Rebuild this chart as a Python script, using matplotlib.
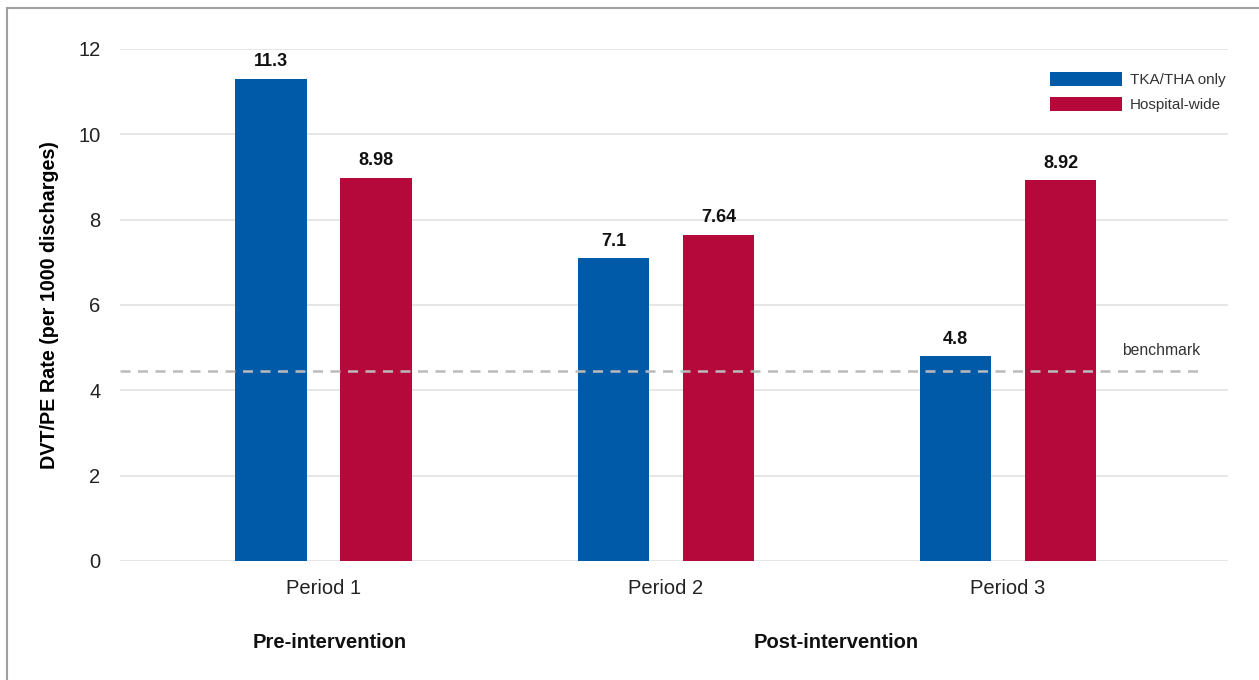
import matplotlib.pyplot as plt
from matplotlib.patches import Rectangle
import numpy as np

plt.rcParams['font.family'] = ['Liberation Sans', 'DejaVu Sans']

periods = ['Period 1', 'Period 2', 'Period 3']
tka_tha = [11.3, 7.1, 4.8]
hospital = [8.98, 7.64, 8.92]
benchmark = 4.45
phases = ['Pre-intervention', 'Post-intervention']

blue = '#005aa8'
red = '#b5093b'

fig = plt.figure(figsize=(12.59, 6.8), dpi=100)
ax = fig.add_axes([120 / 1259, 1 - 561 / 680, 1108 / 1259, 512 / 680])

# frame around the whole figure
fig.patches.append(Rectangle((6.5 / 1259, -0.1), 2, 1 - 8.5 / 680 + 0.1,
                             transform=fig.transFigure, fill=False,
                             edgecolor='#a0a0a0', linewidth=1.5))

x = np.arange(len(periods))
w = 0.21
off = 0.1535
b1 = ax.bar(x - off, tka_tha, w, color=blue, label='TKA/THA only', zorder=3)
b2 = ax.bar(x + off, hospital, w, color=red, label='Hospital-wide', zorder=3)

for bars, vals in [(b1, tka_tha), (b2, hospital)]:
    for rect, v in zip(bars, vals):
        ax.text(rect.get_x() + rect.get_width() / 2, v + 0.2, f'{v:g}',
                ha='center', va='bottom', fontsize=13, fontweight='bold',
                color='#111111')

ax.axhline(benchmark, xmin=0, xmax=0.975, color='#bbbbbb', linestyle=(0, (4, 3)),
           linewidth=1.8, zorder=4)
ax.text(2.561, benchmark + 0.3, 'benchmark', ha='right', va='bottom',
        fontsize=11.3, color='#333333')

ax.set_xlim(-0.596, 2.643)
ax.set_ylim(0, 12)
ax.set_yticks(range(0, 13, 2))
ax.set_xticks(x)
ax.set_xticklabels(periods)
ax.tick_params(axis='both', length=0, labelsize=14.5, colors='#222222')
ax.tick_params(axis='x', pad=13)
ax.tick_params(axis='y', pad=14)
ax.grid(axis='y', color='#e2e2e2', linewidth=1.2, zorder=0)
for s in ax.spines.values():
    s.set_visible(False)

ax.set_ylabel('DVT/PE Rate (per 1000 discharges)', fontsize=14.2,
              fontweight='bold', labelpad=14)

# phase labels under periods
ax.text(0.018, -1.9, phases[0], ha='center', va='center', fontsize=14.5,
        fontweight='bold', color='#111111')
ax.text(1.497, -1.9, phases[1], ha='center', va='center', fontsize=14.5,
        fontweight='bold', color='#111111')

leg = ax.legend(loc='upper left', bbox_to_anchor=(1050 / 1259, 1 - 72 / 680),
                bbox_transform=fig.transFigure, frameon=False, fontsize=11,
                handlelength=4.7, handleheight=1.05, handletextpad=0.55,
                labelspacing=0.62, borderpad=0, borderaxespad=0)
for t in leg.get_texts():
    t.set_color('#333333')

fig.savefig('out.png', dpi=100)
